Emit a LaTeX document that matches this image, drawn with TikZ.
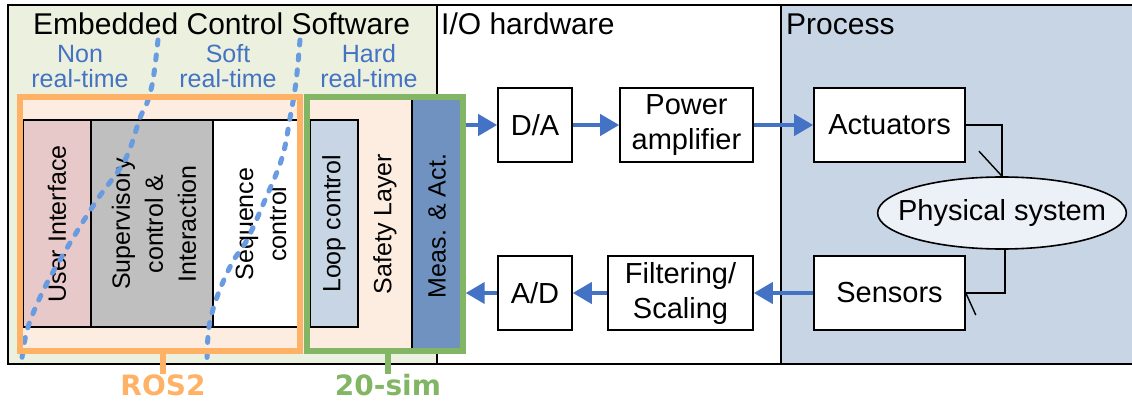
\documentclass[tikz,border=0pt]{standalone}
\usepackage{fontspec}
\setmainfont{Liberation Sans}
\newfontfamily\djv{DejaVu Sans}
\usetikzlibrary{arrows.meta,shapes.geometric}
\definecolor{ecsfill}{RGB}{235,241,222}
\definecolor{procfill}{RGB}{200,213,229}
\definecolor{peach}{RGB}{253,237,225}
\definecolor{rosorange}{RGB}{255,177,102}
\definecolor{simgreen}{RGB}{131,182,100}
\definecolor{uipink}{RGB}{232,201,201}
\definecolor{supgray}{RGB}{191,191,191}
\definecolor{loopblue}{RGB}{199,213,229}
\definecolor{measblue}{RGB}{112,146,192}
\definecolor{txtblue}{RGB}{68,114,196}
\definecolor{dotblue}{RGB}{105,155,225}
\definecolor{ellfill}{RGB}{236,240,247}
\begin{document}
\begin{tikzpicture}[x=1pt,y=-1pt,
  panel/.style={line width=1.8pt,black},
  hwbox/.style={draw=black,line width=1.6pt,fill=white,inner sep=0pt,align=center,
    font=\fontsize{29}{35}\selectfont},
  swblock/.style={draw=black,line width=1.6pt,inner sep=0pt},
  vtext/.style={rotate=90,align=center,inner sep=0pt,font=\fontsize{25}{33}\selectfont},
  rtlabel/.style={text=txtblue,align=center,inner sep=0pt,font=\fontsize{25}{25}\selectfont},
  title/.style={anchor=base west,inner sep=0pt,font=\fontsize{30}{36}\selectfont},
  bluearrow/.style={draw=txtblue,line width=4pt,-{Triangle[length=19pt,width=21pt]}},
  rtline/.style={draw=dotblue,line width=5pt,line cap=round,dash pattern=on 5pt off 10pt},
  thin/.style={draw=black,line width=1.4pt},
  toollabel/.style={anchor=base,inner sep=0pt,font=\djv\bfseries\fontsize{28}{30}\selectfont}
]
\useasboundingbox (0,0) rectangle (1132,401);
% panels
\fill[ecsfill] (8,5) rectangle (437,364);
\fill[white] (437,5) rectangle (781,364);
\fill[procfill] (781,5) rectangle (1132,364);
\draw[panel] (1132,5) -- (8,5) -- (8,364) -- (1132,364);
\draw[panel] (437,5) -- (437,364);
\draw[panel] (781,5) -- (781,364);
\node[title] (ecs) at (33,35) {Embedded Control Software};
\node[title] (io) at (441,35) {I/O hardware};
\node[title] (proc) at (786,35) {Process};
% real-time labels
\node[rtlabel,anchor=base] (nrt) at (80,88) {Non\\real-time};
\node[rtlabel,anchor=base] (srt) at (228,88) {Soft\\real-time};
\node[rtlabel,anchor=base] (hrt) at (369,88) {Hard\\real-time};
% tool boxes (fills)
\node[fill=peach,inner sep=0pt,minimum width=280pt,minimum height=253.5pt] (ros) at (160,224.25) {};
\node[fill=peach,inner sep=0pt,minimum width=155pt,minimum height=253.5pt] (grn) at (385,224.25) {};
% software blocks
\node[swblock,fill=uipink,minimum width=68pt,minimum height=207pt] (ui) at (57,223.5) {};
\node[swblock,fill=supgray,minimum width=122pt,minimum height=207pt] (sup) at (152,223.5) {};
\node[swblock,fill=white,minimum width=87pt,minimum height=207pt] (seq) at (256.5,223.5) {};
\node[swblock,fill=loopblue,minimum width=48pt,minimum height=207pt] (loop) at (334,223.5) {};
\node[swblock,fill=measblue,minimum width=50.5pt,minimum height=253.5pt] (meas) at (437.25,224.25) {};
\node[vtext] (uit) at (57,224) {User Interface};
\node[vtext] (supt) at (154,224) {Supervisory\\control \&\\Interaction};
\node[vtext] (seqt) at (261,224) {Sequence\\control};
\node[vtext] (loopt) at (334,224) {Loop control};
\node[vtext] (safety) at (385,224) {Safety Layer};
\node[vtext] (meast) at (437,226) {Meas. \& Act.};
% real-time boundaries
\draw[rtline] plot[smooth,tension=0.6] coordinates {(158,40) (153,80) (147,103) (140,118) (125,160) (97,200) (70,243) (45,287) (28,327) (22,358)};
\draw[rtline] plot[smooth,tension=0.6] coordinates {(300,40) (296,82) (290,118) (282,158) (265,200) (247,240) (232,263) (217,297) (209,327) (207,358)};
% tool box borders
\draw[draw=rosorange,line width=6pt] (ros.south west) rectangle (ros.north east);
\draw[draw=simgreen,line width=6pt] (grn.south west) rectangle (grn.north east);
\node[toollabel,text=rosorange] (roslbl) at (163,395) {ROS2};
\node[toollabel,text=simgreen] (simlbl) at (388,395) {20-sim};
\draw[draw=rosorange,line width=6pt] (roslbl.north |- ros.south) -- (roslbl.north);
\draw[draw=simgreen,line width=6pt] (simlbl.north |- grn.south) -- (simlbl.north);
\coordinate (gout) at ([xshift=3pt]grn.east);
% I/O hardware
\node[hwbox,minimum width=74pt,minimum height=74pt] (da) at (535,125) {D/A};
\node[hwbox,minimum width=133pt,minimum height=74pt] (pa) at (686.5,125) {Power\\amplifier};
\node[hwbox,minimum width=74pt,minimum height=74pt] (ad) at (535,293) {A/D};
\node[hwbox,minimum width=145pt,minimum height=74pt] (fs) at (680.5,293) {Filtering/\\Scaling};
% process
\node[hwbox,minimum width=151pt,minimum height=74pt] (act) at (889.5,125) {Actuators};
\node[hwbox,minimum width=151pt,minimum height=74pt] (sens) at (889.5,293) {Sensors};
\node[ellipse,draw=black,line width=1.6pt,fill=ellfill,inner xsep=-16pt,inner ysep=0pt,minimum height=72pt,
  font=\fontsize{29}{35}\selectfont] (phys) at (1002,213) {Physical system};
% signal flow
\draw[bluearrow] (gout |- da.west) -- (da.west);
\draw[bluearrow] (da.east) -- (pa.west);
\draw[bluearrow] (pa.east) -- (act.west);
\draw[bluearrow] (sens.west) -- (fs.east);
\draw[bluearrow] (fs.west) -- (ad.east);
\draw[bluearrow] (ad.west) -- (gout |- ad.west);
\draw[thin] (act.east) -- (act.east -| phys.north) -- (phys.north);
\draw[thin] (phys.north) -- ++(-23,-25);
\draw[thin] ([xshift=3pt]phys.south) -- ([xshift=3pt]phys.south |- sens.east) -- (sens.east);
\draw[thin] (sens.east) -- ++(10,22);
\end{tikzpicture}
\end{document}
